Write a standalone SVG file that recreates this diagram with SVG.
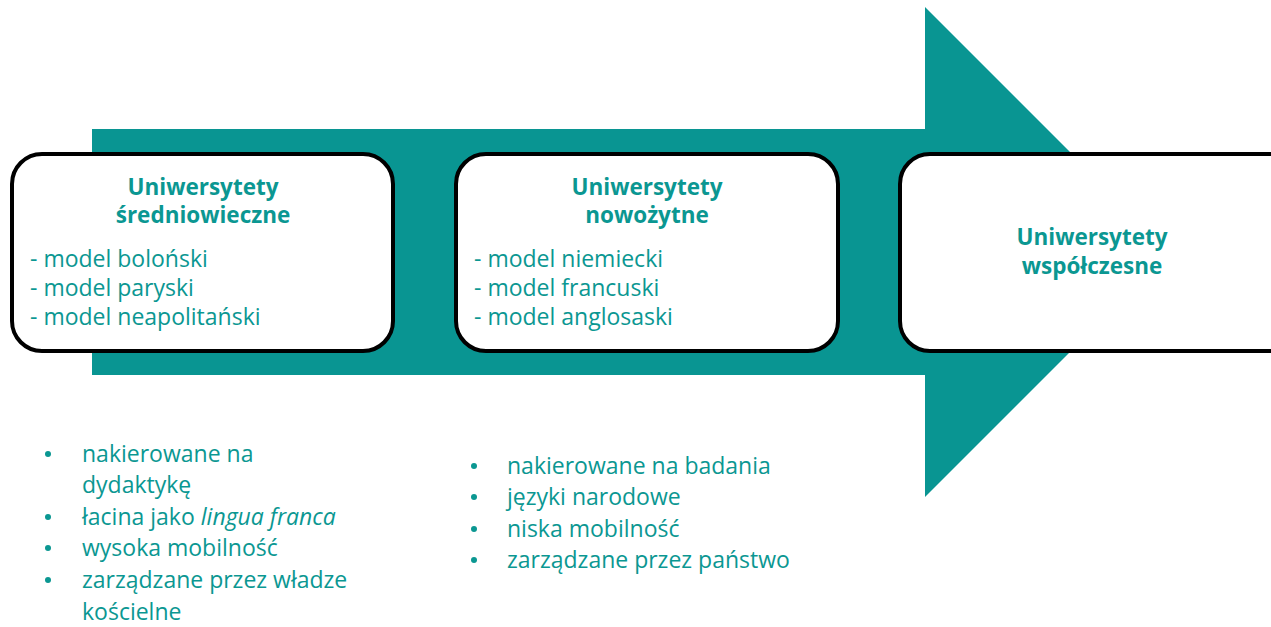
<svg xmlns="http://www.w3.org/2000/svg" width="1271" height="627" viewBox="0 0 1271 627">
<style>
.t{font-family:"Open Sans","Liberation Sans",sans-serif;fill:#0B9792;font-size:23px}
.b{font-weight:bold;font-size:22.5px;text-anchor:middle}
.box{fill:#fff;stroke:#000;stroke-width:4}
.dot{fill:#0B9792}
</style>
<rect width="1271" height="627" fill="#fff"/>
<g id="arrow">
<polygon points="92,129 925,129 925,7 1170,252 925,497 925,375 92,375" fill="#099592"/>
</g>
<g id="connectors"></g>
<g id="node1">
<rect class="box" x="12" y="154" width="381" height="197" rx="30"/>
<text class="t b" x="203" y="195">Uniwersytety</text>
<text class="t b" x="203" y="223">średniowieczne</text>
<text class="t" x="30" y="267">- model boloński</text>
<text class="t" x="30" y="296">- model paryski</text>
<text class="t" x="30" y="325">- model neapolitański</text>
</g>
<g id="node2">
<rect class="box" x="456" y="154" width="382" height="197" rx="30"/>
<text class="t b" x="647" y="195">Uniwersytety</text>
<text class="t b" x="647" y="223">nowożytne</text>
<text class="t" x="474" y="267">- model niemiecki</text>
<text class="t" x="474" y="296">- model francuski</text>
<text class="t" x="474" y="325">- model anglosaski</text>
</g>
<g id="node3">
<rect class="box" x="900" y="154" width="400" height="197" rx="30"/>
<text class="t b" x="1092" y="245">Uniwersytety</text>
<text class="t b" x="1092" y="274">współczesne</text>
</g>
<g id="list1">
<circle class="dot" cx="48" cy="454" r="3"/>
<text class="t" x="82" y="462">nakierowane na</text>
<text class="t" x="82" y="493">dydaktykę</text>
<circle class="dot" cx="48" cy="517" r="3"/>
<text class="t" x="82" y="525">łacina jako <tspan font-style="italic">lingua franca</tspan></text>
<circle class="dot" cx="48" cy="548" r="3"/>
<text class="t" x="82" y="556">wysoka mobilność</text>
<circle class="dot" cx="48" cy="580" r="3"/>
<text class="t" x="82" y="588">zarządzane przez władze</text>
<text class="t" x="82" y="620">kościelne</text>
</g>
<g id="list2">
<circle class="dot" cx="474" cy="466" r="3"/>
<text class="t" x="507" y="474">nakierowane na badania</text>
<circle class="dot" cx="474" cy="497" r="3"/>
<text class="t" x="507" y="505">języki narodowe</text>
<circle class="dot" cx="474" cy="529" r="3"/>
<text class="t" x="507" y="537">niska mobilność</text>
<circle class="dot" cx="474" cy="560" r="3"/>
<text class="t" x="507" y="568">zarządzane przez państwo</text>
</g>
</svg>
